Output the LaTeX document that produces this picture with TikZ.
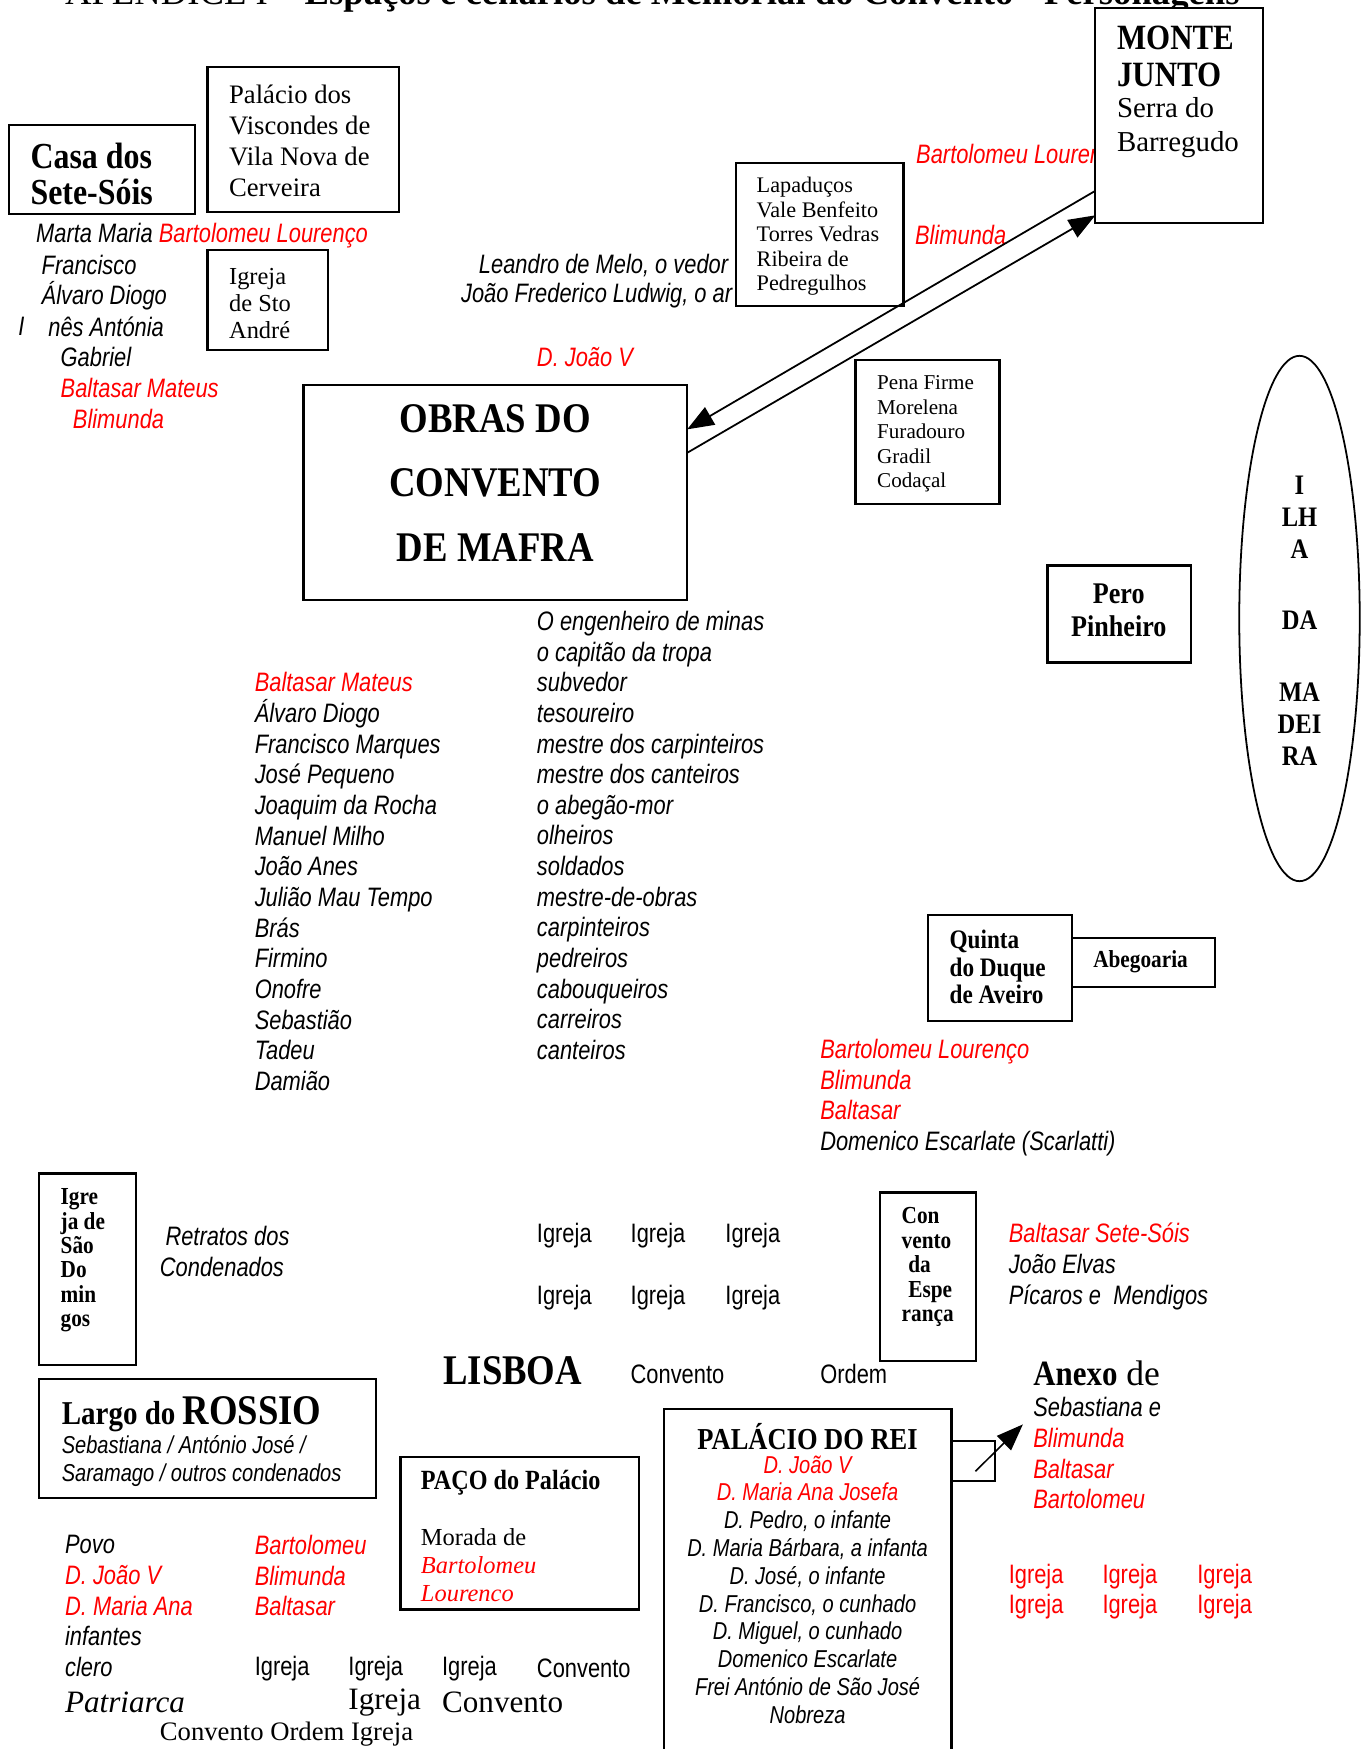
\documentclass[tikz,border=0pt]{standalone}
\usepackage{fontspec}
\setmainfont{Liberation Serif}
\newfontfamily\narrowsans[FakeStretch=0.82]{Liberation Sans}
\newfontfamily\narrowserif[FakeStretch=0.87]{Liberation Serif}
\usetikzlibrary{arrows.meta, shapes.geometric, fit, calc}

\newcommand{\pu}{0.502pt}
\newcommand{\fsz}[2]{\fontsize{#1}{#2}\selectfont}
\newcommand{\headfont}[2]{\narrowserif\bfseries\fontsize{#1}{#2}\selectfont}

\tikzset{
  place/.style={draw, line width=1pt, fill=white, inner sep=0pt, outer sep=0pt},
  txt/.style={anchor=west, inner sep=0pt, align=left},
  nome/.style={txt, font=\narrowsans\itshape\fsz{12}{13.8}},
  nomep/.style={txt, font=\narrowsans\itshape\fsz{11}{12.5}},
  igr/.style={txt, font=\narrowsans\fsz{12}{13.8}},
  via/.style={line width=0.8pt, -{Triangle[length=12pt, width=9pt]}}
}

\begin{document}
\begin{tikzpicture}[x=\pu, y=-\pu]
    \useasboundingbox (0,0) rectangle (1227,1568);
    \clip (0,0) rectangle (1227,1568);

    % titulo (cortado no topo)
    \node[anchor=base west, inner sep=0pt, font=\fsz{16.5}{18}] (titulo) at (58,4)
        {APÊNDICE I – \textbf{Espaços e cenários de Memorial do Convento - Personagens}};

    % personagens soltas
    \node[nome] (marta) at (32,211) {Marta Maria \textcolor{red}{Bartolomeu Lourenço}};
    \node[nome] (francisco) at (37,238) {Francisco};
    \node[nome] (alvaro) at (37,265) {Álvaro Diogo};
    \node[nome] (inesI) at (16,293) {I};
    \node[nome] (ines) at (43,293) {nês Antónia};
    \node[nome] (gabriel) at (54,320) {Gabriel};
    \node[nome, red] (baltasarM) at (54,348) {Baltasar Mateus};
    \node[nome, red] (blimundaM) at (65,376) {Blimunda};

    \node[nome] (leandro) at (429,238) {Leandro de Melo, o vedor};
    \node[nome] (ludwig) at (413,265) {João Frederico Ludwig, o ar};
    \node[nome, red] (joaoV) at (481,320) {D. João V};
    \node[nome, red] (bartoMJ) at (821,140) {Bartolomeu Lourenço};
    \node[nome, red] (blimMJ) at (820,211) {Blimunda};

    \node[nome] (operarios) at (228,790.5) {\textcolor{red}{Baltasar Mateus}\\Álvaro Diogo\\Francisco Marques\\José Pequeno\\Joaquim da Rocha\\Manuel Milho\\João Anes\\Julião Mau Tempo\\Brás\\Firmino\\Onofre\\Sebastião\\Tadeu\\Damião};
    \node[nome] (oficios) at (481,749) {O engenheiro de minas\\o capitão da tropa\\subvedor\\tesoureiro\\mestre dos carpinteiros\\mestre dos canteiros\\o abegão-mor\\olheiros\\soldados\\mestre-de-obras\\carpinteiros\\pedreiros\\cabouqueiros\\carreiros\\canteiros};

    \node[nome] (quintalista) at (735,984) {\textcolor{red}{Bartolomeu Lourenço}\\\textcolor{red}{Blimunda}\\\textcolor{red}{Baltasar}\\Domenico Escarlate (Scarlatti)};

    \node[nome] (retratos) at (148,1108) {Retratos dos};
    \node[nome] (condenados) at (143,1136) {Condenados};
    \node[igr] (igreja1) at (481,1108) {Igreja};
    \node[igr] (igreja2) at (565,1108) {Igreja};
    \node[igr] (igreja3) at (650,1108) {Igreja};
    \node[igr] (igreja4) at (481,1163) {Igreja};
    \node[igr] (igreja5) at (565,1163) {Igreja};
    \node[igr] (igreja6) at (650,1163) {Igreja};
    \node[nome] (picaros) at (904,1135.5) {\textcolor{red}{Baltasar Sete-Sóis}\\João Elvas\\Pícaros e~ Mendigos};

    % Lisboa
    \node[txt, font=\headfont{19}{19}] (lisboa) at (397,1229) {LISBOA};
    \node[igr] (conventoL) at (565,1232) {Convento};
    \node[igr] (ordemL) at (735,1232) {Ordem};
    \node[txt, font=\fsz{16}{16}] (anexo) at (926,1231) {{\narrowserif\bfseries Anexo} de};
    \node[nome] (anexolista) at (926,1303) {Sebastiana e\\\textcolor{red}{Blimunda}\\\textcolor{red}{Baltasar}\\\textcolor{red}{Bartolomeu}};

    \node[nome] (povo) at (58,1440) {Povo\\\textcolor{red}{D. João V}\\\textcolor{red}{D. Maria Ana}\\infantes\\clero};
    \node[nome, red] (trio) at (228,1412.5) {Bartolomeu\\Blimunda\\Baltasar};
    \node[igr] (igreja7) at (228,1496) {Igreja};
    \node[igr] (igreja8) at (312,1496) {Igreja};
    \node[igr] (igreja9) at (396,1496) {Igreja};
    \node[igr] (convento1) at (481,1496) {Convento};
    \node[txt, font=\itshape\fsz{14}{14}] (patriarca) at (58,1526) {Patriarca};
    \node[txt, font=\fsz{14}{14}] (igrejaP) at (312,1526) {Igreja};
    \node[txt, font=\fsz{14}{14}] (conventoP) at (396,1526) {Convento};
    \node[txt, font=\fsz{12}{12}] (ordemP) at (143,1555) {Convento Ordem Igreja};

    \node[igr, red] (igrejaR1) at (904,1413) {Igreja};
    \node[igr, red] (igrejaR2) at (988,1413) {Igreja};
    \node[igr, red] (igrejaR3) at (1073,1413) {Igreja};
    \node[igr, red] (igrejaR4) at (904,1440) {Igreja};
    \node[igr, red] (igrejaR5) at (988,1440) {Igreja};
    \node[igr, red] (igrejaR6) at (1073,1440) {Igreja};

    % caixas dos lugares
    \node[place, fit={(8,112) (175,192)}] (casa) {};
    \node[place, fit={(186,60) (358,190)}] (viscondes) {};
    \node[place, fit={(186,224) (294,314)}] (andre) {};
    \node[place, fit={(982,7) (1132,200)}] (monte) {};
    \node[place, fit={(660,146) (810,274)}] (lapa) {};
    \node[place, fit={(272,345) (616,538)}] (obras) {};
    \node[place, fit={(767,323) (896,452)}] (pena) {};
    \node[place, ellipse, line width=0.8pt, minimum width=108*\pu, minimum height=471*\pu] (ilha) at (1165,554.5) {};
    \node[place, fit={(939,507) (1068,594)}] (pero) {};
    \node[place, fit={(832,820) (961,915)}] (quinta) {};
    \node[place, fit={(961,841) (1089,885)}] (abegoaria) {};
    \node[place, fit={(35,1052) (122,1224)}] (domingos) {};
    \node[place, fit={(789,1069) (875,1220)}] (esperanca) {};
    \node[place, fit={(35,1236) (337,1343)}] (rossio) {};
    \node[place, fit={(359,1306) (573,1443)}] (paco) {};
    \node[place, fit={(595,1263) (853,1600)}] (rei) {};
    \node[place, fit={(853,1292) (892,1328)}] (reitab) {};

    % setas Mafra - Monte Junto
    \draw[via] ($(monte.north west)!0.85!(monte.south west)$) -- ($(obras.north east)!0.207!(obras.south east)$);
    \draw[via] ($(obras.north east)!0.316!(obras.south east)$) -- ($(monte.north west)!0.964!(monte.south west)$);
    \coordinate (anexoseta) at (917,1277);
    \draw[via, line width=0.7pt] ($(reitab.south)+(2,-9)$) -- (anexoseta);

    % textos das caixas
    \node[txt, font=\headfont{16.5}{16}] (casatxt) at (27,156) {Casa dos\\Sete-Sóis};
    \node[txt, font=\fsz{12}{13.9}] (viscondestxt) at (205,126.5) {Palácio dos\\Viscondes de\\Vila Nova de\\Cerveira};
    \node[txt, font=\fsz{11}{12}] (andretxt) at (205,272) {Igreja\\de Sto\\André};
    \node[txt, font=\headfont{16}{16.6}] (montetxt) at (1001,50.5) {MONTE\\JUNTO};
    \node[txt, font=\fsz{13}{15.5}] (serratxt) at (1001,114.5) {Serra do\\Barregudo};
    \node[txt, font=\fsz{10}{11}] (lapatxt) at (678,212) {Lapaduços\\Vale Benfeito\\Torres Vedras\\Ribeira de\\Pedregulhos};
    \node[txt, font=\fsz{9.5}{11}] (penatxt) at (786,389) {Pena Firme\\Morelena\\Furadouro\\Gradil\\Codaçal};
    \node[align=center, inner sep=0pt, font=\headfont{19}{29.1}] (obrastxt) at (444,433) {OBRAS DO\\CONVENTO\\DE MAFRA};
    \node[align=center, inner sep=0pt, font=\headfont{12.7}{14.4}] (ilhatxt) at (1165,556.5) {I\\LH\\A\\[17.7pt]DA\\[17.7pt]MA\\DEI\\RA};
    \node[align=center, inner sep=0pt, font=\headfont{13.5}{15}] (perotxt) at (1003,547) {Pero\\Pinheiro};
    \node[txt, font=\headfont{12}{12.5}] (quintatxt) at (851,867) {Quinta\\do Duque\\de Aveiro};
    \node[inner sep=0pt, font=\headfont{11}{11}] (abegtxt) at (1022.5,862) {Abegoaria};
    \node[txt, font=\headfont{11}{11}] (domtxt) at (54,1130) {Igre\\ja de\\São\\Do\\min\\gos};
    \node[txt, font=\headfont{11}{11}] (esptxt) at (808,1136) {Con\\vento\\\hspace*{3pt}da\\\hspace*{3pt}Espe\\rança};
    \node[txt] (largo) at (55,1268) {{\headfont{15}{15}Largo do }{\headfont{19}{19}ROSSIO}};
    \node[nomep] (rossiolista) at (55,1309.5) {Sebastiana / António José /\\Saramago / outros condenados};
    \node[txt, font=\headfont{12.5}{12.5}] (pacotit) at (377,1329) {PAÇO do Palácio};
    \node[txt, font=\fsz{11}{12.5}] (morada) at (377,1403) {Morada de\\\textcolor{red}{\itshape Bartolomeu}\\\textcolor{red}{\itshape Lourenco}};
    \node[inner sep=0pt, font=\headfont{13.7}{13.7}] (reitit) at (724,1288) {PALÁCIO DO REI};
    \node[nomep, anchor=center, align=center] (reilista) at (724,1425) {\textcolor{red}{D. João V}\\\textcolor{red}{D. Maria Ana Josefa}\\D. Pedro, o infante\\D. Maria Bárbara, a infanta\\D. José, o infante\\D. Francisco, o cunhado\\D. Miguel, o cunhado\\Domenico Escarlate\\Frei António de São José\\Nobreza};
\end{tikzpicture}
\end{document}
